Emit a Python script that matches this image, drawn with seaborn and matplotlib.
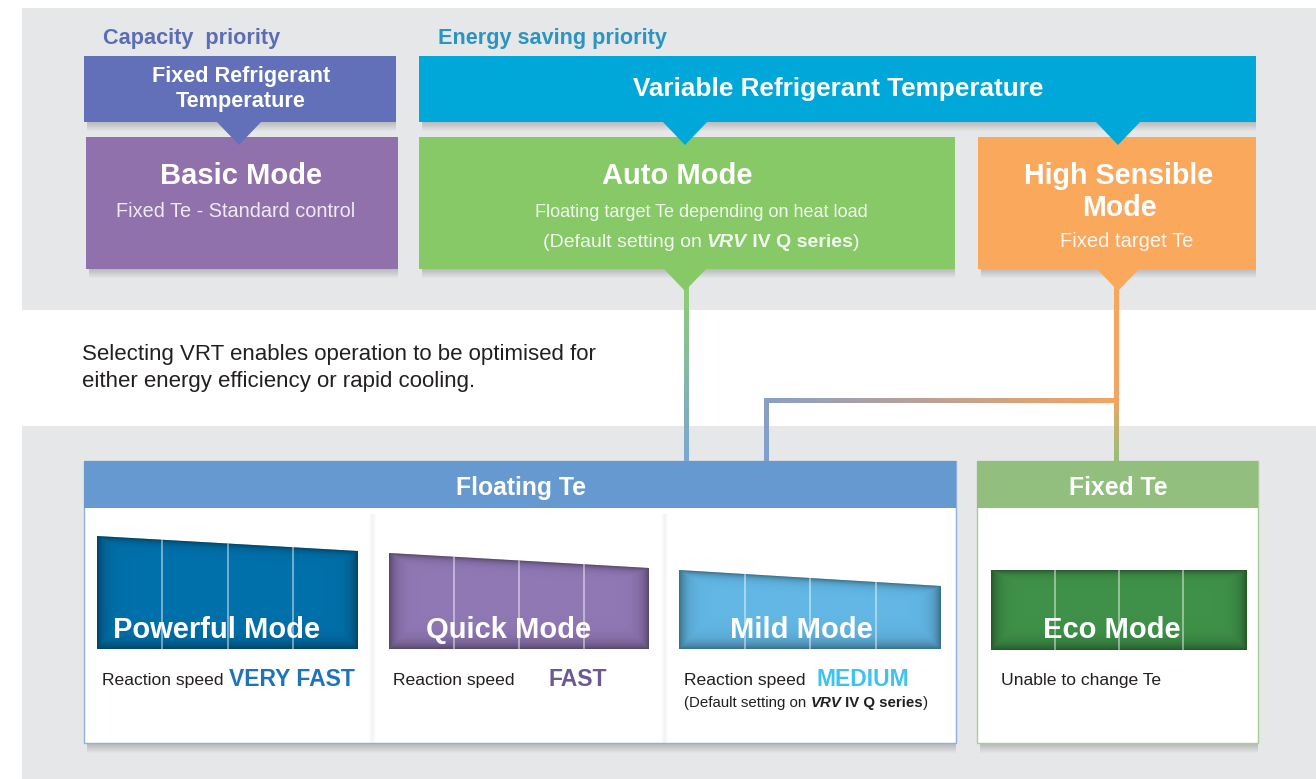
import numpy as np
import seaborn as sns
import matplotlib.pyplot as plt
from matplotlib.patches import Rectangle, Polygon
from matplotlib.collections import LineCollection
from matplotlib.colors import to_rgb

sns.set_theme(style="white")
plt.rcParams['font.family'] = ['Liberation Sans', 'DejaVu Sans']

# Content
priority_titles = ["Capacity  priority", "Energy saving priority"]
header_labels = ["Fixed Refrigerant\nTemperature", "Variable Refrigerant Temperature"]
upper_modes = ["Basic Mode", "Auto Mode", "High Sensible\nMode"]
upper_notes = ["Fixed Te - Standard control",
               "Floating target Te depending on heat load",
               "Fixed target Te"]
group_labels = ["Floating Te", "Fixed Te"]
lower_modes = ["Powerful Mode", "Quick Mode", "Mild Mode", "Eco Mode"]
speed_words = ["VERY FAST", "FAST", "MEDIUM", ""]
lower_notes = ["Reaction speed", "Reaction speed", "Reaction speed", "Unable to change Te"]
intro = "Selecting VRT enables operation to be optimised for\neither energy efficiency or rapid cooling."
# height of each mode bar at its left and right end (px)
bar_left = [113, 96, 79, 80]
bar_right = [98, 81, 63, 80]

W, H = 1316, 779
fig = plt.figure(figsize=(W / 100, H / 100), dpi=100)
ax = fig.add_axes([0, 0, 1, 1])
ax.set_xlim(0, W)
ax.set_ylim(H, 0)
ax.axis('off')
renderer = fig.canvas.get_renderer()

GRAY = '#e6e7e9'
DARK = '#231f20'
DY = 2  # text sits a touch lower than its box centre


def rect(x0, y0, x1, y1, color, z=1, **kw):
    ax.add_patch(Rectangle((x0, y0), x1 - x0, y1 - y0, facecolor=color,
                           edgecolor='none', zorder=z, **kw))


def shadow(x0, y0, x1, y1, depth=9, z=0.5):
    for i in range(depth):
        ax.add_patch(Rectangle((x0 + 3, y0 + i + 1), x1 - x0 - 3, y1 - y0,
                               facecolor='k', alpha=0.022, edgecolor='none', zorder=z))


def tri(xc, y0, tip, half, color, z=3):
    ax.add_patch(Polygon([(xc - half, y0), (xc + half, y0), (xc, tip)],
                         closed=True, facecolor=color, edgecolor='none', zorder=z))


def label(x, y, s, **kw):
    kw.setdefault('ha', 'center')
    kw.setdefault('va', 'center')
    kw.setdefault('zorder', 6)
    return ax.text(x, y + DY, s, **kw)


def run(x, y, parts, ha='left', z=6):
    # draw text pieces side by side, measuring each one
    objs, widths = [], []
    for s, p in parts:
        t = ax.text(0, y + DY, s, va='center', ha='left', zorder=z, **p)
        objs.append(t)
        widths.append(t.get_window_extent(renderer).width)
    start = x - sum(widths) / 2 if ha == 'center' else x
    for t, w in zip(objs, widths):
        t.set_x(start)
        start += w


def grad_line(xs, ys, c0, c1, lw=3.6, n=80):
    x = np.linspace(xs[0], xs[1], n)
    y = np.linspace(ys[0], ys[1], n)
    pts = np.column_stack([x, y])
    segs = np.stack([pts[:-1], pts[1:]], axis=1)
    a, b = np.array(to_rgb(c0)), np.array(to_rgb(c1))
    cols = [(1 - t) * a + t * b for t in np.linspace(0, 1, n - 1)]
    ax.add_collection(LineCollection(segs, colors=cols, linewidths=lw,
                                     capstyle='projecting', zorder=2))


def mode_bar(x0, x1, base, hl, hr, color):
    poly = Polygon([(x0, base), (x0, base - hl), (x1, base - hr), (x1, base)],
                   closed=True, facecolor=color, edgecolor='none', zorder=3)
    ax.add_patch(poly)
    top = base - max(hl, hr)
    xx, yy = np.meshgrid(np.arange(x0, x1) + 0.5, np.arange(top, base) + 0.5)
    ytop = base - (hl + (hr - hl) * (xx - x0) / (x1 - x0))
    d = np.minimum.reduce([(xx - x0) * 1.0, x1 - xx, (base - yy) * 1.0, (yy - ytop) * 2.0])
    d = np.clip(d, 0, None)
    img = np.zeros(xx.shape + (4,))
    img[..., 3] = 0.42 * np.exp(-d / 7.0)
    im = ax.imshow(img, extent=(x0, x1, base, top), origin='upper',
                   aspect='auto', zorder=3.5, interpolation='bilinear')
    im.set_clip_path(poly)
    for k in (1, 2, 3):
        xv = x0 + (x1 - x0) * k / 4
        yt = base - (hl + (hr - hl) * k / 4)
        ax.plot([xv, xv], [yt, base], color='white', alpha=0.45, lw=1.4, zorder=4)


# backgrounds
rect(22, 8, W, 310, GRAY, z=0)
rect(22, 426, W, H, GRAY, z=0)

# priority titles
label(103, 36, priority_titles[0], fontsize=15.6, fontweight='bold',
      color='#5a6db5', ha='left')
label(438, 36, priority_titles[1], fontsize=15.6, fontweight='bold',
      color='#2b95c2', ha='left')

# header bars
shadow(84, 56, 396, 122)
rect(84, 56, 396, 122, '#6170b8', z=2)
label(241, 87, header_labels[0], fontsize=15.6, fontweight='bold', color='white',
      linespacing=1.22)
shadow(419, 56, 1256, 122)
rect(419, 56, 1256, 122, '#00a7d9', z=2)
label(838, 87, header_labels[1], fontsize=18.8, fontweight='bold', color='white')

# upper mode boxes
boxes = [(86, 398, '#9071ac'), (419, 955, '#87c867'), (978, 1256, '#f9a85c')]
for (x0, x1, c) in boxes:
    shadow(x0, 137, x1, 269)
    rect(x0, 137, x1, 269, c, z=2)
tri(239, 121, 145, 23, '#6170b8')
tri(685, 121, 145, 23, '#00a7d9')
tri(1118, 121, 145, 23, '#00a7d9')
tri(685, 268, 291, 22, '#87c867')
tri(1118, 268, 291, 22, '#f9a85c')

label(241, 174, upper_modes[0], fontsize=21, fontweight='bold', color='white')
label(236, 209, upper_notes[0], fontsize=14.3, color='white', alpha=0.85)
label(677, 174, upper_modes[1], fontsize=21, fontweight='bold', color='white')
label(701, 210, upper_notes[1], fontsize=13, color='white', alpha=0.9)
wt = dict(fontsize=14, color='white', alpha=0.9)
run(701, 240, [("(Default setting on ", wt),
               ("VRV", dict(wt, fontweight='bold', fontstyle='italic')),
               (" IV Q series", dict(wt, fontweight='bold')),
               (")", wt)], ha='center')
label(1119, 190, upper_modes[2], fontsize=20.6, fontweight='bold', color='white',
      linespacing=1.15)
label(1127, 239, upper_notes[2], fontsize=14.5, color='white', alpha=0.9)

# intro text
label(82, 366, intro, fontsize=16, color=DARK, ha='left', linespacing=1.42)

# connectors
grad_line((686, 686), (286, 462), '#8fcd72', '#7aa5d5')
grad_line((1116, 1116), (286, 400), '#f8a65c', '#f2a462')
grad_line((1116, 1116), (400, 462), '#f0a462', '#93bf7a')
grad_line((766, 1116), (400, 400), '#8a9fc4', '#f2a462')
grad_line((766, 766), (400, 462), '#8a9fc4', '#7ea0cf')

# lower group boxes
shadow(84, 461, 956, 743, depth=10)
rect(84, 461, 956, 743, 'white', z=1)
ax.add_patch(Rectangle((84, 461), 872, 282, facecolor='none', edgecolor='#8fb0da',
                       lw=1.0, zorder=1.5))
rect(84, 461, 956, 508, '#6699cf', z=2)
shadow(977, 461, 1258, 743, depth=10)
rect(977, 461, 1258, 743, 'white', z=1)
ax.add_patch(Rectangle((977, 461), 281, 282, facecolor='none', edgecolor='#a9cc99',
                       lw=1.0, zorder=1.5))
rect(977, 461, 1258, 508, '#92bf7d', z=2)
label(521, 486, group_labels[0], fontsize=17.8, fontweight='bold', color='white')
label(1118, 486, group_labels[1], fontsize=17.8, fontweight='bold', color='white')

# card edges inside Floating Te
for xs in (372, 664):
    for i in range(7):
        rect(xs - 3 + i, 514, xs - 2 + i, 743, 'k', z=1.6,
             alpha=0.05 * (1 - abs(i - 3) / 4))

# mode bars
bar_x = [(97, 358), (389, 649), (679, 941), (991, 1247)]
bar_base = [649, 649, 649, 650]
bar_colors = ['#0070aa', '#9078b5', '#62b7e5', '#3f9149']
for (x0, x1), b, hl, hr, c in zip(bar_x, bar_base, bar_left, bar_right, bar_colors):
    mode_bar(x0, x1, b, hl, hr, c)

label_x = [217, 509, 801, 1112]
for lx, name in zip(label_x, lower_modes):
    label(lx, 628, name, fontsize=21, fontweight='bold', color='white')

note_x = [102, 393, 684, 1001]
word_x = [229, 549, 817]
word_colors = ['#1c74bb', '#6c5797', '#3ec3ee']
for nx, note in zip(note_x, lower_notes):
    label(nx, 679, note, fontsize=12.6, color=DARK, ha='left')
for wx, word, c in zip(word_x, speed_words, word_colors):
    label(wx, 678, word, fontsize=16.5, fontweight='bold', color=c, ha='left')

nt = dict(fontsize=10.8, color=DARK)
run(684, 701, [("(Default setting on ", nt),
               ("VRV", dict(nt, fontweight='bold', fontstyle='italic')),
               (" IV Q series", dict(nt, fontweight='bold')),
               (")", nt)])

ax.set_xlim(0, W)
ax.set_ylim(H, 0)
fig.savefig('out.png', dpi=100, facecolor='white')
